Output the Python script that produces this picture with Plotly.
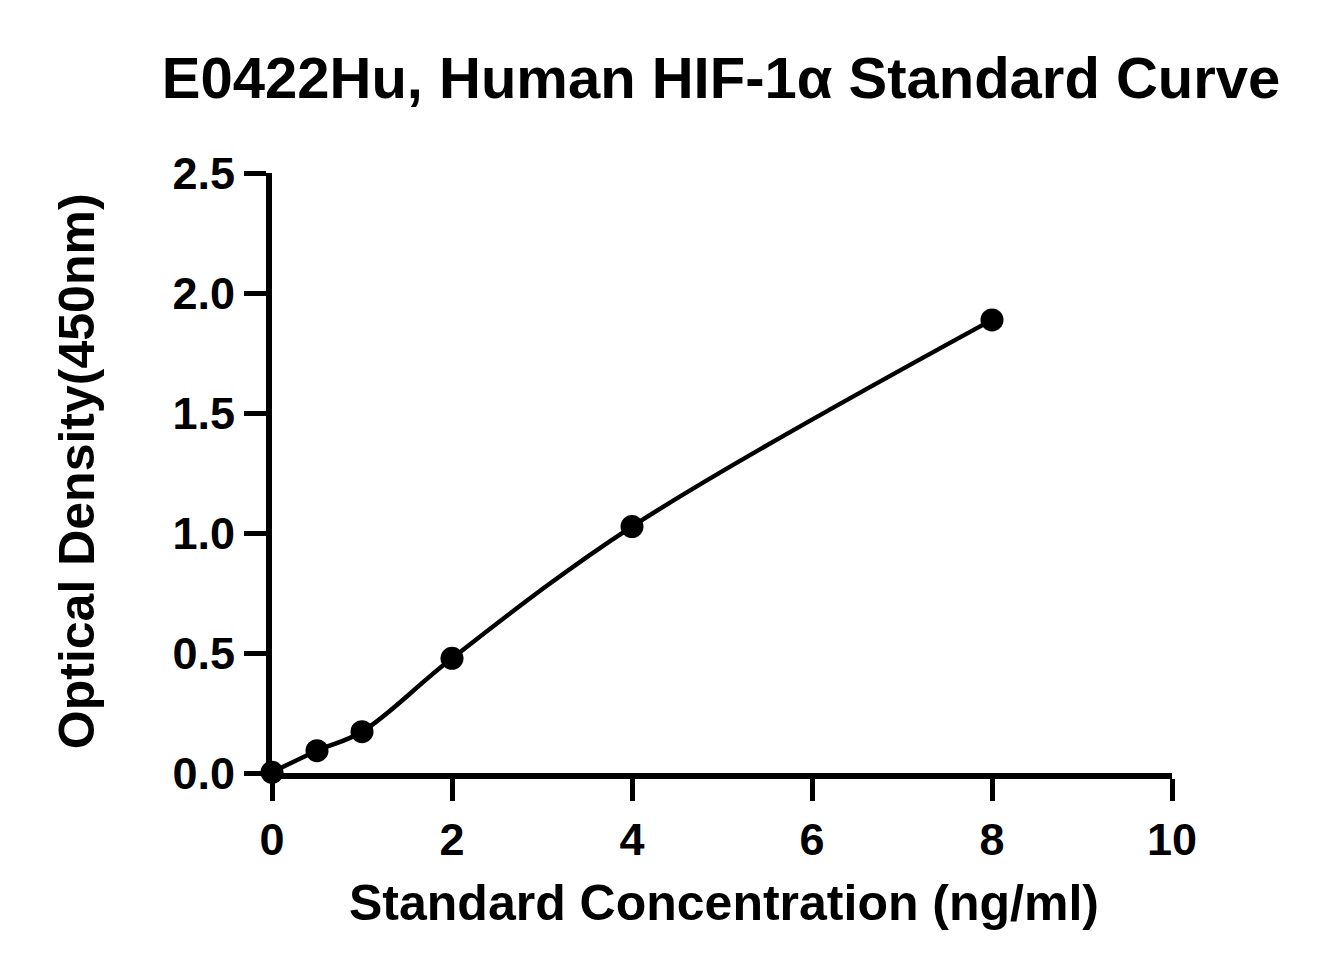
import plotly.graph_objects as go

conc = [0, 0.5, 1, 2, 4, 8]
od = [0.003, 0.093, 0.172, 0.478, 1.027, 1.888]
x_ticks = [0, 2, 4, 6, 8, 10]
y_ticks = [0.0, 0.5, 1.0, 1.5, 2.0, 2.5]
y_tick_text = ["0.0", "0.5", "1.0", "1.5", "2.0", "2.5"]

FONT = "Liberation Sans, Arial, sans-serif"

fig = go.Figure()
fig.add_trace(go.Scatter(
    x=conc, y=od, mode="lines",
    line=dict(color="black", width=4.5, shape="spline", smoothing=1.0),
    showlegend=False, hoverinfo="skip", cliponaxis=False,
))
fig.add_trace(go.Scatter(
    x=conc, y=od, mode="markers",
    marker=dict(color="black", size=23, line=dict(width=0)),
    showlegend=False, cliponaxis=False,
))

fig.update_layout(
    width=1323, height=975,
    paper_bgcolor="white", plot_bgcolor="white",
    margin=dict(l=264, r=159, t=165, b=210, autoexpand=False),
    font=dict(family=FONT, color="black"),
    title=dict(
        text="<b>E0422Hu, Human HIF-1α Standard Curve</b>",
        x=0.539, xanchor="center", y=0.929, yanchor="middle",
        font=dict(size=58, family=FONT, color="black"),
    ),
    xaxis=dict(
        range=[0, 10], tickvals=x_ticks, ticktext=[f"<b>{v}</b>" for v in x_ticks],
        showgrid=False, zeroline=False, showline=True, linecolor="black", linewidth=6,
        ticks="outside", ticklen=22, tickwidth=5, tickcolor="black",
        tickfont=dict(size=45, family=FONT, color="black"),
    ),
    yaxis=dict(
        range=[0, 2.5], tickvals=y_ticks, ticktext=[f"<b>{t}</b>" for t in y_tick_text],
        showgrid=False, zeroline=False, showline=True, linecolor="black", linewidth=6,
        ticks="outside", ticklen=22, tickwidth=5, tickcolor="black",
        tickfont=dict(size=45, family=FONT, color="black"),
    ),
    annotations=[
        dict(text="<b>Standard Concentration (ng/ml)</b>", xref="paper", yref="paper",
             x=0.5017, y=-0.217, xanchor="center", yanchor="middle", showarrow=False,
             font=dict(size=50, family=FONT, color="black")),
        dict(text="<b>Optical Density(450nm)</b>", xref="paper", yref="paper",
             x=-0.2167, y=0.503, xanchor="center", yanchor="middle", showarrow=False,
             textangle=-90, font=dict(size=50, family=FONT, color="black")),
    ],
)

fig.write_html("out.html")
